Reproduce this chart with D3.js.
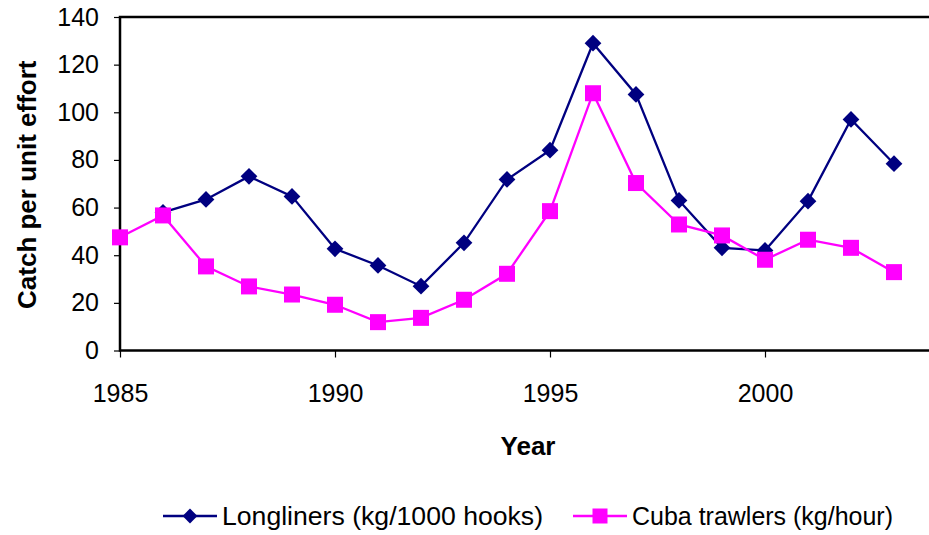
<!DOCTYPE html>
<html>
<head>
<meta charset="utf-8">
<script src="https://cdn.jsdelivr.net/npm/d3@7"></script>
<style>
  html, body { margin: 0; padding: 0; background: #fff; }
  svg { display: block; font-family: "Liberation Sans", Arial, sans-serif; }
</style>
</head>
<body>
<svg id="chart" width="929" height="535"></svg>
<script>
// Catch per unit effort by year
const years = [1985, 1986, 1987, 1988, 1989, 1990, 1991, 1992, 1993, 1994,
               1995, 1996, 1997, 1998, 1999, 2000, 2001, 2002, 2003];
// Longliners (kg/1000 hooks) – no value for 1985
const longliners = [null, 58, 63.4, 73.1, 64.7, 42.7, 35.7, 27, 45.2, 71.8,
                    84.1, 129, 107.5, 63, 43.1, 42, 62.7, 97, 78.4];
// Cuba trawlers (kg/hour)
const cubaTrawlers = [47.5, 56.7, 35.3, 26.9, 23.5, 19.2, 11.9, 13.7, 21.3, 32.2,
                      58.5, 108, 70.3, 52.9, 48.3, 38.1, 46.5, 43.1, 32.9];
const yTicks = [0, 20, 40, 60, 80, 100, 120, 140];
const xTicks = [1985, 1990, 1995, 2000];
const seriesNames = ["Longliners (kg/1000 hooks)", "Cuba trawlers (kg/hour)"];

const svg = d3.select("#chart");
const plotLeft = 120, plotRight = 937, plotTop = 17, plotBottom = 350.5;
const font = "Liberation Sans, Arial, sans-serif";

const x = d3.scaleLinear().domain([1985, 2004]).range([plotLeft, plotRight]);
const y = d3.scaleLinear().domain([0, 140]).range([plotBottom, plotTop]);

// plot frame
svg.append("rect")
  .attr("x", plotLeft).attr("y", plotTop)
  .attr("width", plotRight - plotLeft).attr("height", plotBottom - plotTop)
  .attr("fill", "none").attr("stroke", "#000").attr("stroke-width", 2.5);

// y axis
const yAxis = svg.append("g")
  .attr("transform", `translate(${plotLeft},0)`)
  .call(d3.axisLeft(y).tickValues(yTicks).tickSize(6).tickPadding(15).tickFormat(d3.format("d")));
yAxis.select(".domain").remove();
yAxis.selectAll("line").attr("stroke", "#000").attr("stroke-width", 1.2);
yAxis.selectAll("text").attr("font-size", 25).attr("fill", "#000").attr("font-family", font);

// x axis
const xAxis = svg.append("g")
  .attr("transform", `translate(0,${plotBottom})`)
  .call(d3.axisBottom(x).tickValues(xTicks).tickSize(7).tickPadding(27).tickFormat(d3.format("d")));
xAxis.select(".domain").remove();
xAxis.selectAll("line").attr("stroke", "#000").attr("stroke-width", 1.2);
xAxis.selectAll("text").attr("font-size", 25).attr("fill", "#000").attr("font-family", font);

// axis titles
svg.append("text")
  .attr("transform", `translate(36,${(plotTop + plotBottom) / 2 + 1}) rotate(-90)`)
  .attr("text-anchor", "middle")
  .attr("font-size", 26).attr("font-weight", "bold")
  .text("Catch per unit effort");
svg.append("text")
  .attr("x", 528).attr("y", 455)
  .attr("text-anchor", "middle")
  .attr("font-size", 26).attr("font-weight", "bold")
  .text("Year");

const navy = "#000080", magenta = "#FF00FF";

const line = d3.line()
  .defined(d => d.v != null)
  .x(d => x(d.year)).y(d => y(d.v));

function drawSeries(values, color, marker) {
  const data = years.map((yr, i) => ({ year: yr, v: values[i] }));
  svg.append("path").datum(data)
    .attr("d", line)
    .attr("fill", "none").attr("stroke", color).attr("stroke-width", 2.3);
  const pts = data.filter(d => d.v != null);
  if (marker === "diamond") {
    svg.selectAll(null).data(pts).enter().append("path")
      .attr("d", d3.symbol(d3.symbolSquare, 140))
      .attr("transform", d => `translate(${x(d.year)},${y(d.v)}) rotate(45)`)
      .attr("fill", color);
  } else {
    svg.selectAll(null).data(pts).enter().append("rect")
      .attr("x", d => x(d.year) - 8).attr("y", d => y(d.v) - 8)
      .attr("width", 16).attr("height", 16)
      .attr("fill", color);
  }
}

drawSeries(longliners, navy, "diamond");
drawSeries(cubaTrawlers, magenta, "square");

// legend
const legend = [
  { name: seriesNames[0], color: navy, marker: "diamond", x0: 163, tx: 222, tw: 321 },
  { name: seriesNames[1], color: magenta, marker: "square", x0: 573, tx: 632, tw: 261 }
];
const ly = 516;
legend.forEach(l => {
  svg.append("line")
    .attr("x1", l.x0).attr("x2", l.x0 + 54).attr("y1", ly).attr("y2", ly)
    .attr("stroke", l.color).attr("stroke-width", 2.3);
  if (l.marker === "diamond") {
    svg.append("path")
      .attr("d", d3.symbol(d3.symbolSquare, 110))
      .attr("transform", `translate(${l.x0 + 27},${ly}) rotate(45)`)
      .attr("fill", l.color);
  } else {
    svg.append("rect")
      .attr("x", l.x0 + 27 - 7.5).attr("y", ly - 7.5).attr("width", 15).attr("height", 15)
      .attr("fill", l.color);
  }
  svg.append("text")
    .attr("x", l.tx).attr("y", ly + 9)
    .attr("font-size", 25)
    .attr("textLength", l.tw).attr("lengthAdjust", "spacingAndGlyphs")
    .text(l.name);
});
</script>
</body>
</html>
